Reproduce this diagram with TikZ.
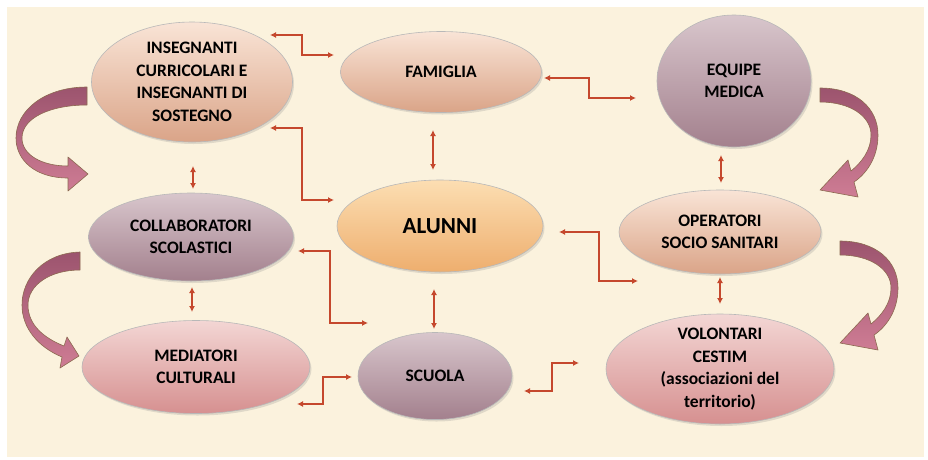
\documentclass[tikz,border=0pt]{standalone}
\usepackage{fontspec}
\setmainfont{Carlito}
\usepackage{xcolor}
\usepackage{tikz}
\usetikzlibrary{arrows,arrows.meta,shapes,positioning,shadows,calc}

\definecolor{bgbeige}{RGB}{251,242,221}
\definecolor{linkred}{RGB}{197,72,45}
\definecolor{ribbonedge}{RGB}{140,105,80}

\begin{document}
\begin{tikzpicture}[x=1pt,y=-1pt,
  blob/.style={ellipse, draw=black!28, line width=0.6pt, inner sep=-4pt,
    align=center, text=black,
    font=\fontsize{17.5}{22.5}\selectfont\bfseries,
    drop shadow={opacity=0.22, shadow xshift=1.5pt, shadow yshift=-2pt}},
  peach/.style={blob, top color={rgb,255:red,249;green,228;blue,214},
    middle color={rgb,255:red,240;green,202;blue,180},
    bottom color={rgb,255:red,218;green,164;blue,136}},
  mauve/.style={blob, top color={rgb,255:red,216;green,198;blue,204},
    middle color={rgb,255:red,196;green,170;blue,179},
    bottom color={rgb,255:red,163;green,128;blue,141}},
  pinky/.style={blob, top color={rgb,255:red,243;green,214;blue,212},
    middle color={rgb,255:red,232;green,188;blue,188},
    bottom color={rgb,255:red,214;green,144;blue,144}},
  orangey/.style={blob, top color={rgb,255:red,252;green,222;blue,178},
    middle color={rgb,255:red,248;green,200;blue,144},
    bottom color={rgb,255:red,238;green,174;blue,110},
    font=\fontsize{23}{28}\selectfont\bfseries},
  link/.style={{Latex[length=6pt,width=6pt]}-{Latex[length=6pt,width=6pt]},
    draw=linkred, line width=1.3pt},
  bigarrow/.style={draw=ribbonedge, line width=0.6pt, line join=round,
    top color={rgb,255:red,156;green,84;blue,110},
    bottom color={rgb,255:red,206;green,124;blue,148}}]

\useasboundingbox (0,0) rectangle (928,459);
\fill[white] (0,0) rectangle (928,459);
\fill[bgbeige] (7,7) rectangle (924,457);

% Ellipses
\node[peach, minimum width=201, minimum height=120] (ins) at (192,82) {INSEGNANTI\\CURRICOLARI E\\INSEGNANTI DI\\SOSTEGNO};
\node[peach, minimum width=201, minimum height=81] (fam) at (441,72) {FAMIGLIA};
\node[mauve, minimum width=154, minimum height=132] (equ) at (734,81) {EQUIPE\\MEDICA};
\node[orangey, minimum width=206, minimum height=92] (alu) at (440,226) {ALUNNI};
\node[mauve, minimum width=205, minimum height=88] (col) at (191,237) {COLLABORATORI\\SCOLASTICI};
\node[peach, minimum width=202, minimum height=84] (ope) at (720,232) {OPERATORI\\SOCIO SANITARI};
\node[pinky, minimum width=228, minimum height=93] (med) at (196,367) {MEDIATORI\\CULTURALI};
\node[mauve, minimum width=154, minimum height=87] (scu) at (435,376) {SCUOLA};
\node[pinky, minimum width=228, minimum height=110] (vol) at (720,369) {VOLONTARI\\CESTIM\\(associazioni del\\territorio)};

% Links
\draw[link] ($(ins)+(78,-47)$) -- ++(32,0) |- ($(fam)+(-107,-17)$);
\draw[link] ($(ins)+(78,46)$) -- ++(32,0) |- ($(alu)+(-106,-26)$);
\draw[link] ($(fam)+(-8,58)$) -- ($(alu)+(-7,-56)$);
\draw[link] ($(ins)+(1,84)$) -- ($(col)+(2,-48)$);
\draw[link] ($(fam)+(103,6)$) -- ++(45,0) |- ($(equ)+(-98,17)$);
\draw[link] ($(equ)+(-13,74)$) -- ($(ope)+(1,-49)$);
\draw[link] ($(alu)+(119,6)$) -- ++(40,0) |- ($(ope)+(-82,49)$);
\draw[link] ($(ope)+(0,45)$) -- ($(vol)+(0,-65)$);
\draw[link] ($(col)+(107,14)$) -- ++(32,0) |- ($(scu)+(-67,-53)$);
\draw[link] ($(col)+(1,50)$) -- ($(med)+(-4,-55)$);
\draw[link] ($(alu)+(-6,63)$) -- ($(scu)+(-1,-47)$);
\draw[link] ($(med)+(101,37)$) -- ++(26,0) |- ($(scu)+(-83,1)$);
\draw[link] ($(scu)+(89,15)$) -- ++(28,0) |- ($(vol)+(-141,-6)$);

% Curved arrows
\path[bigarrow] (87,87) .. controls (45,87) and (16,110) .. (16,138)
  .. controls (16,160) and (35,178) .. (68,178) -- (68,191) -- (88,174) -- (68,157) -- (68,166)
  .. controls (42,166) and (22,155) .. (22,138) .. controls (22,118) and (50,105) .. (87,105) -- cycle;
\path[bigarrow] (80,252) .. controls (44,253) and (22,278) .. (22,305)
  .. controls (22,328) and (38,347) .. (62,357) -- (60,368) -- (79,356) -- (67,337) -- (64,346)
  .. controls (44,338) and (28,325) .. (28,305) .. controls (28,285) and (50,270) .. (80,270) -- cycle;
\path[bigarrow] (820,88) .. controls (856,88) and (878,108) .. (878,135)
  .. controls (878,158) and (866,174) .. (854,182) -- (858,197) -- (820,190) -- (848,160) -- (851,171)
  .. controls (862,162) and (871,150) .. (871,135) .. controls (871,116) and (850,102) .. (820,102) -- cycle;
\path[bigarrow] (840,241) .. controls (876,241) and (898,261) .. (898,288)
  .. controls (898,311) and (886,327) .. (874,335) -- (878,350) -- (840,343) -- (868,313) -- (871,324)
  .. controls (882,315) and (891,303) .. (891,288) .. controls (891,269) and (870,255) .. (840,255) -- cycle;

\end{tikzpicture}
\end{document}
